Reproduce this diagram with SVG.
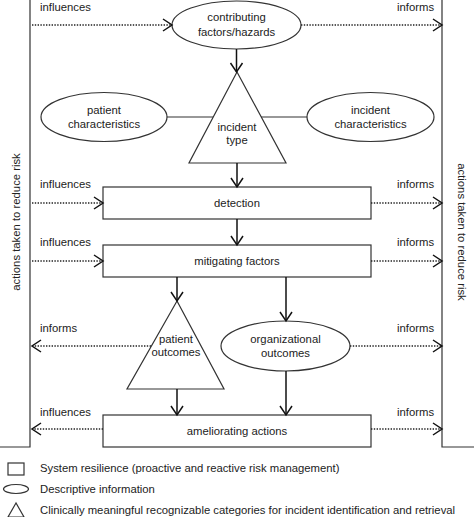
<svg xmlns="http://www.w3.org/2000/svg" width="474" height="517" viewBox="0 0 474 517">
<defs>
<style>
text{font-family:"Liberation Sans",Arial,sans-serif;font-size:11.3px;fill:#222}
.c{text-anchor:middle}
.shape{fill:#fff;stroke:#333;stroke-width:1.2}
.solid{fill:none;stroke:#111;stroke-width:1.5}
.dot{fill:none;stroke:#222;stroke-width:1.4;stroke-dasharray:1.4 1.4}
.plain{fill:none;stroke:#333;stroke-width:1.2}
</style>
<marker id="ah" markerUnits="userSpaceOnUse" markerWidth="14" markerHeight="16" viewBox="-11 -8 14 16" refX="0" refY="0" orient="auto">
<path d="M-9,-6 L0,0 L-9,6" fill="none" stroke="#111" stroke-width="1.5"/>
</marker>
</defs>
<rect width="474" height="517" fill="#fff"/>

<g id="left-band">
<path class="plain" d="M30,0 V447 H0"/>
<text class="c" transform="translate(20,222) rotate(-90)">actions taken to reduce risk</text>
</g>
<g id="right-band">
<path class="plain" d="M442,0 V447 H474"/>
<text class="c" transform="translate(458,232) rotate(90)">actions taken to reduce risk</text>
</g>

<g id="contributing">
<ellipse class="shape" cx="236.5" cy="25" rx="64.5" ry="24"/>
<text class="c" x="236.5" y="21">contributing</text>
<text class="c" x="236.5" y="36">factors/hazards</text>
</g>
<g id="incident-type">
<polygon class="shape" points="237,72 189,163 286,163"/>
<text class="c" x="237" y="131">incident</text>
<text class="c" x="237" y="144">type</text>
</g>
<g id="patient-characteristics">
<ellipse class="shape" cx="104" cy="117" rx="63" ry="24.5"/>
<text class="c" x="104" y="114">patient</text>
<text class="c" x="104" y="128">characteristics</text>
</g>
<g id="incident-characteristics">
<ellipse class="shape" cx="370.5" cy="117" rx="63.5" ry="24.5"/>
<text class="c" x="370.5" y="114">incident</text>
<text class="c" x="370.5" y="128">characteristics</text>
</g>
<g id="detection">
<rect class="shape" x="103" y="187" width="268" height="32"/>
<text class="c" x="237" y="207">detection</text>
</g>
<g id="mitigating">
<rect class="shape" x="103" y="245" width="268" height="32"/>
<text class="c" x="237" y="265">mitigating factors</text>
</g>
<g id="patient-outcomes">
<polygon class="shape" points="177,301 127,389 224,389"/>
<text class="c" x="176" y="343">patient</text>
<text class="c" x="176" y="356">outcomes</text>
</g>
<g id="organizational-outcomes">
<ellipse class="shape" cx="285.5" cy="346" rx="64.5" ry="25"/>
<text class="c" x="285.5" y="343">organizational</text>
<text class="c" x="285.5" y="357">outcomes</text>
</g>
<g id="ameliorating">
<rect class="shape" x="103" y="415" width="268" height="32"/>
<text class="c" x="237" y="435">ameliorating actions</text>
</g>

<g id="connectors">
<line class="solid" x1="236.5" y1="49" x2="236.5" y2="72" marker-end="url(#ah)"/>
<line class="solid" x1="237" y1="163" x2="237" y2="187" marker-end="url(#ah)"/>
<line class="solid" x1="237" y1="219" x2="237" y2="245" marker-end="url(#ah)"/>
<line class="solid" x1="177" y1="277" x2="177" y2="301" marker-end="url(#ah)"/>
<line class="solid" x1="286" y1="277" x2="286" y2="321" marker-end="url(#ah)"/>
<line class="solid" x1="177" y1="389" x2="177" y2="415" marker-end="url(#ah)"/>
<line class="solid" x1="286" y1="371" x2="286" y2="415" marker-end="url(#ah)"/>
<line class="plain" x1="167" y1="117" x2="213" y2="117"/>
<line class="plain" x1="261" y1="117" x2="307" y2="117"/>

<line class="dot" x1="32" y1="25" x2="172" y2="25" marker-end="url(#ah)"/>
<line class="dot" x1="301" y1="25" x2="442" y2="25" marker-end="url(#ah)"/>
<line class="dot" x1="32" y1="203" x2="103" y2="203" marker-end="url(#ah)"/>
<line class="dot" x1="371" y1="203" x2="442" y2="203" marker-end="url(#ah)"/>
<line class="dot" x1="32" y1="261" x2="103" y2="261" marker-end="url(#ah)"/>
<line class="dot" x1="371" y1="261" x2="442" y2="261" marker-end="url(#ah)"/>
<line class="dot" x1="151" y1="346" x2="32" y2="346" marker-end="url(#ah)"/>
<line class="dot" x1="350" y1="346" x2="442" y2="346" marker-end="url(#ah)"/>
<line class="dot" x1="103" y1="429" x2="32" y2="429" marker-end="url(#ah)"/>
<line class="dot" x1="371" y1="429" x2="442" y2="429" marker-end="url(#ah)"/>

<text x="40" y="11">influences</text>
<text x="397" y="11">informs</text>
<text x="40" y="188">influences</text>
<text x="397" y="188">informs</text>
<text x="40" y="246">influences</text>
<text x="397" y="246">informs</text>
<text x="40" y="332">informs</text>
<text x="397" y="332">informs</text>
<text x="40" y="416">influences</text>
<text x="397" y="416">informs</text>
</g>

<g id="legend">
<rect class="shape" x="8" y="463" width="16" height="12"/>
<text x="40" y="472">System resilience (proactive and reactive risk management)</text>
<ellipse class="shape" cx="16" cy="489" rx="12.5" ry="4.5"/>
<text x="40" y="493">Descriptive information</text>
<polygon class="shape" points="16,503 8,517 24,517"/>
<text x="40" y="514">Clinically meaningful recognizable categories for incident identification and retrieval</text>
</g>
</svg>
